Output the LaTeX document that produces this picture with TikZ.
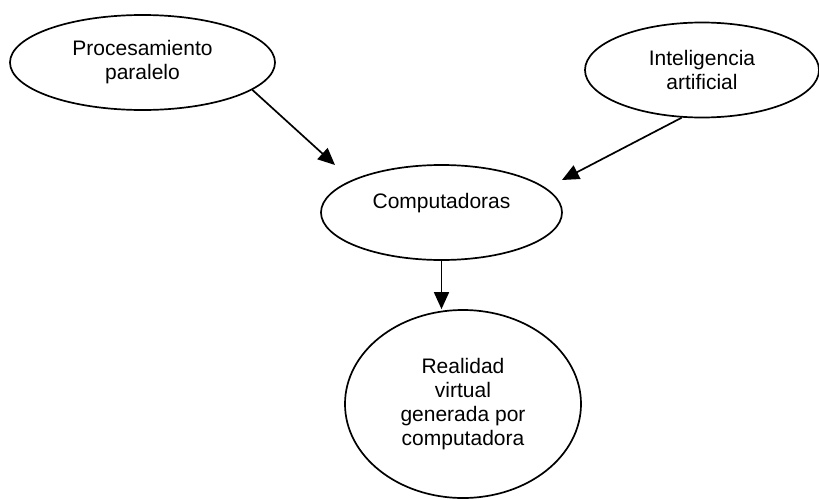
\documentclass[tikz,border=0pt]{standalone}
\usepackage{fontspec}
\setmainfont{Liberation Sans}
\usetikzlibrary{shapes.geometric, arrows.meta}

\tikzset{
  bubble/.style={ellipse, draw, line width=1.7pt, inner sep=0pt, align=center,
    font=\fontsize{21}{24}\selectfont},
  arr/.style={line width=1.7pt, -{Triangle[length=17pt, width=15pt]}}
}

\begin{document}
\begin{tikzpicture}[x=1pt, y=-1pt]
        % Page frame
        \useasboundingbox (0, 0) rectangle (819, 498);
        % Ellipses
        \node [bubble, minimum width=265pt, minimum height=95pt] (proc) at (142.5, 62.5) {Procesamiento\\paralelo};
        \node [bubble, minimum width=234pt, minimum height=95pt] (intel) at (702, 70) {Inteligencia\\artificial};
        \node [bubble, minimum width=241pt, minimum height=95pt, text depth=24pt] (comp) at (441.5, 212.5) {Computadoras};
        \node [bubble, minimum width=236pt, minimum height=188pt] (real) at (463, 404) {Realidad\\virtual\\generada por\\computadora};
        % Arrows
        \coordinate (t1) at (335, 165);
        \coordinate (t2) at (562, 180);
        \draw [arr] (proc.-14) -- (t1);
        \draw [arr] (intel.-113) -- (t2);
        \draw [arr] (comp.south) -- (comp.south |- real.north);
    \end{tikzpicture}
\end{document}
